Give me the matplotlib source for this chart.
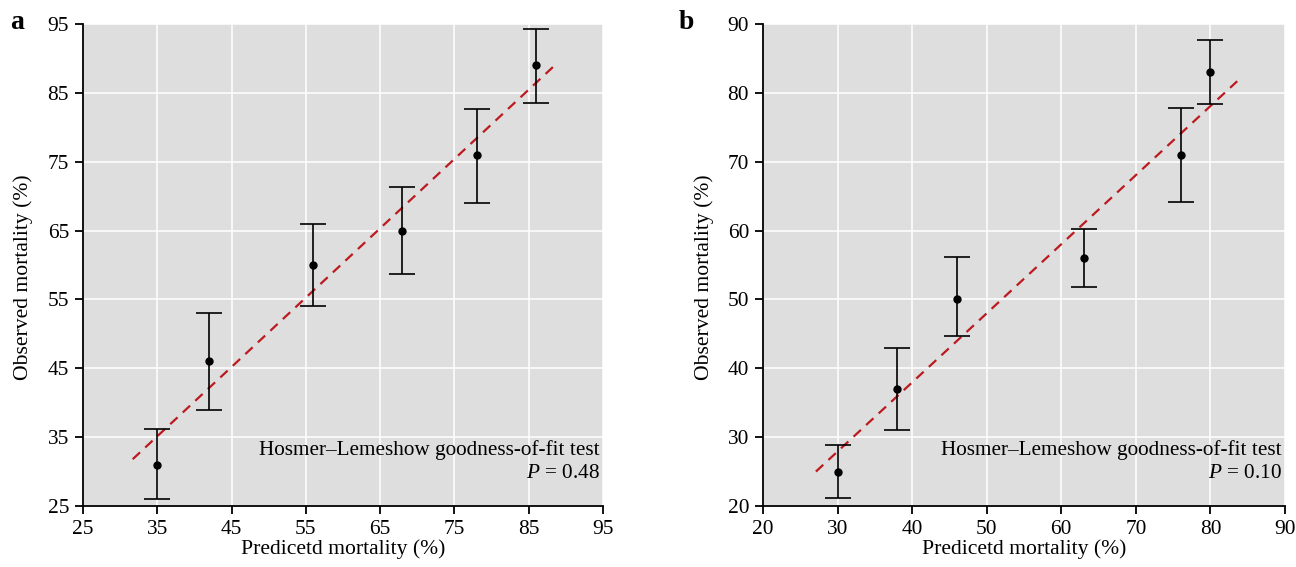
import matplotlib
matplotlib.use("Agg")
import matplotlib.pyplot as plt
import numpy as np

plt.rcParams['font.family'] = ['Liberation Serif', 'DejaVu Serif']
plt.rcParams['mathtext.fontset'] = 'custom'
plt.rcParams['mathtext.rm'] = 'Liberation Serif'
plt.rcParams['mathtext.it'] = 'Liberation Serif:italic'

# Panel a data
a_pred = [35, 42, 56, 68, 78, 86]
a_obs = [31, 46, 60, 65, 76, 89]
a_low = [26, 39, 54, 58.7, 69, 83.5]
a_high = [36.2, 53, 66, 71.3, 82.7, 94.3]
a_line_x = [31.7, 88.8]
a_line_y = [31.8, 89.3]
a_ticks = [25, 35, 45, 55, 65, 75, 85, 95]
a_p = "0.48"

# Panel b data
b_pred = [30, 38, 46, 63, 76, 80]
b_obs = [25, 37, 50, 56, 71, 83]
b_low = [21.2, 31, 44.7, 51.8, 64.2, 78.4]
b_high = [28.9, 43, 56.1, 60.2, 77.8, 87.7]
b_line_x = [27.1, 83.6]
b_line_y = [25.0, 81.7]
b_ticks = [20, 30, 40, 50, 60, 70, 80, 90]
b_p = "0.10"

fig = plt.figure(figsize=(12.96, 5.67), dpi=100)
ax_a = fig.add_axes([0.064, 0.1076, 0.4013, 0.850])
ax_b = fig.add_axes([0.5887, 0.1076, 0.4028, 0.850])

TFS = 15.4
LFS = 15.6
AFS = 15.3

def draw(ax, pred, obs, low, high, lx, ly, ticks, p, ylab_x):
    ax.set_facecolor('#dedede')
    ax.grid(True, color='white', linewidth=1.1)
    ax.set_axisbelow(True)
    obs = np.array(obs); low = np.array(low); high = np.array(high)
    ax.plot(lx, ly, linestyle=(0, (4.5, 3.2)), color='#bb1a1f', linewidth=1.6, zorder=2)
    ax.errorbar(pred, obs, yerr=[obs - low, high - obs], fmt='o', color='black',
                markersize=5, capsize=9.5, elinewidth=1.2, capthick=1.2, zorder=3)
    ax.set_xlim(ticks[0], ticks[-1])
    ax.set_ylim(ticks[0], ticks[-1])
    ax.set_xticks(ticks)
    ax.set_yticks(ticks)
    for s in ['top', 'right']:
        ax.spines[s].set_visible(False)
    for s in ['left', 'bottom']:
        ax.spines[s].set_linewidth(1.3)
    ax.tick_params(direction='out', length=6, width=1.3, labelsize=TFS, pad=4)
    ax.set_xlabel('Predicetd mortality (%)', fontsize=LFS, labelpad=0)
    ax.set_ylabel('Observed mortality (%)', fontsize=LFS)
    ax.yaxis.set_label_coords(ylab_x, 0.474)
    ax.text(0.994, 0.106, 'Hosmer\u2013Lemeshow goodness-of-fit test', transform=ax.transAxes,
            ha='right', va='baseline', fontsize=AFS)
    ax.text(0.994, 0.058, r'$P$ = ' + p, transform=ax.transAxes,
            ha='right', va='baseline', fontsize=AFS)

draw(ax_a, a_pred, a_obs, a_low, a_high, a_line_x, a_line_y, a_ticks, a_p, -0.096)
draw(ax_b, b_pred, b_obs, b_low, b_high, b_line_x, b_line_y, b_ticks, b_p, -0.094)

fig.text(0.008, 0.96, 'a', fontsize=20, fontweight='bold', va='center', ha='left')
fig.text(0.524, 0.96, 'b', fontsize=20, fontweight='bold', va='center', ha='left')

fig.savefig('out.png', dpi=100)
